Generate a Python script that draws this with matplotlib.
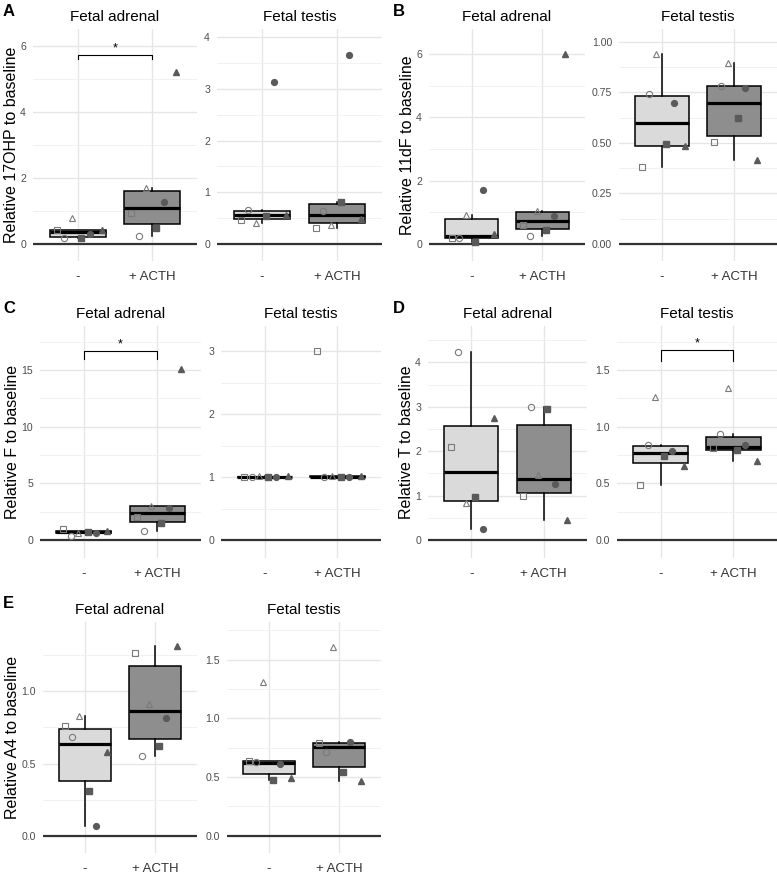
import matplotlib
matplotlib.use("Agg")
import matplotlib.pyplot as plt

plt.rcParams["font.family"] = ["Liberation Sans", "DejaVu Sans"]

# orden de los puntos: cuadrado abierto, circulo abierto, triangulo abierto,
# cuadrado relleno, circulo relleno, triangulo relleno
grupos = ["-", "+ ACTH"]

ohp_adr_ctrl = [0.42, 0.19, 0.78, 0.19, 0.30, 0.42]
ohp_adr_acth = [0.94, 0.25, 1.70, 0.48, 1.27, 5.23]
ohp_tes_ctrl = [0.46, 0.65, 0.41, 0.55, 3.13, 0.57]
ohp_tes_acth = [0.31, 0.64, 0.37, 0.81, 3.66, 0.49]

df_adr_ctrl = [0.18, 0.18, 0.93, 0.07, 1.71, 0.32]
df_adr_acth = [0.60, 0.24, 1.05, 0.43, 0.87, 6.00]
df_tes_ctrl = [0.381, 0.744, 0.94, 0.497, 0.698, 0.483]
df_tes_acth = [0.503, 0.784, 0.896, 0.624, 0.771, 0.414]

f_adr_ctrl = [1.00, 0.35, 0.65, 0.74, 0.65, 0.76]
f_adr_acth = [2.06, 0.79, 3.03, 1.47, 2.79, 15.07]
f_tes_ctrl = [1.00, 1.00, 1.01, 1.00, 1.00, 1.01]
f_tes_acth = [3.00, 1.00, 1.01, 1.00, 1.00, 1.01]

t_adr_ctrl = [2.09, 4.24, 0.84, 0.96, 0.24, 2.74]
t_adr_acth = [1.00, 2.99, 1.47, 2.96, 1.26, 0.45]
t_tes_ctrl = [0.49, 0.838, 1.26, 0.74, 0.79, 0.657]
t_tes_acth = [0.81, 0.936, 1.34, 0.794, 0.838, 0.697]

a4_adr_ctrl = [0.762, 0.683, 0.831, 0.31, 0.069, 0.583]
a4_adr_acth = [1.262, 0.549, 0.914, 0.618, 0.815, 1.317]
a4_tes_ctrl = [0.636, 0.625, 1.312, 0.474, 0.608, 0.494]
a4_tes_acth = [0.787, 0.716, 1.611, 0.545, 0.795, 0.466]

# ticks del eje y
ticks_ohp_adr = [0, 2, 4, 6]
ticks_ohp_tes = [0, 1, 2, 3, 4]
ticks_df_adr = [0, 2, 4, 6]
ticks_df_tes = [0.00, 0.25, 0.50, 0.75, 1.00]
ticks_f_adr = [0, 5, 10, 15]
ticks_f_tes = [0, 1, 2, 3]
ticks_t_adr = [0, 1, 2, 3, 4]
ticks_t_tes = [0.0, 0.5, 1.0, 1.5]
ticks_a4_adr = [0.0, 0.5, 1.0]
ticks_a4_tes = [0.0, 0.5, 1.0, 1.5]

W, H = 777, 873
fig = plt.figure(figsize=(W / 100, H / 100), dpi=100)

marcadores = ["s", "o", "^", "s", "o", "^"]
rellenos = [False, False, False, True, True, True]
desplaz = [-0.28, -0.18, -0.08, 0.05, 0.16, 0.32]


def panel(x0, x1, fila, datos_ctrl, datos_acth, ytop, ticks, fmt, titulo,
          ylabel=None, corchete=None, letra=None):
    top, bottom, zero = fila
    ybot = -(bottom - zero) / (zero - top) * ytop
    ax = fig.add_axes([x0 / W, 1 - bottom / H, (x1 - x0) / W, (bottom - top) / H])
    for s in ax.spines.values():
        s.set_visible(False)
    ax.axhline(0, color="#333333", lw=1.6, zorder=1)

    bp = ax.boxplot([datos_ctrl, datos_acth], positions=[1, 2], widths=0.75,
                    patch_artist=True, showfliers=False, showcaps=False, whis=1.5,
                    medianprops=dict(color="black", lw=2.3),
                    boxprops=dict(edgecolor="black", lw=1.1),
                    whiskerprops=dict(color="black", lw=1.1), zorder=2)
    for caja, color in zip(bp["boxes"], ["#dadada", "#8e8e8e"]):
        caja.set_facecolor(color)

    for pos, datos in zip([1, 2], [datos_ctrl, datos_acth]):
        for v, m, lleno, d in zip(datos, marcadores, rellenos, desplaz):
            if lleno:
                ax.plot(pos + d, v, marker=m, ms=4.2, color="#5a5a5a", mec="#5a5a5a", zorder=3)
            else:
                ax.plot(pos + d, v, marker=m, ms=4.5, mfc="none", mec="#7a7a7a", mew=0.8, zorder=3)

    if corchete is not None:
        yb, yt = corchete
        ax.plot([1, 1, 2, 2], [yt, yb, yb, yt], color="black", lw=0.8, zorder=3)
        ax.text(1.5, yb, "*", ha="center", va="bottom", fontsize=9)

    ax.set_xlim(0.4, 2.6)
    ax.set_ylim(ybot, ytop)
    paso = ticks[1] - ticks[0]
    menores = [t + paso / 2 for t in ticks] + [ticks[0] - paso / 2]
    menores = [m for m in menores if ybot < m < ytop]
    ax.set_yticks(ticks)
    ax.set_yticklabels([fmt.format(t) for t in ticks])
    ax.set_yticks(menores, minor=True)
    ax.set_xticks([1, 2])
    ax.set_xticklabels(grupos)
    ax.grid(which="major", color="#e6e6e6", lw=1.0, zorder=0)
    ax.grid(which="minor", axis="y", color="#efefef", lw=0.6, zorder=0)
    ax.set_axisbelow(True)
    ax.tick_params(axis="y", which="both", length=0, labelsize=7.6, labelcolor="#4d4d4d", pad=5)
    ax.tick_params(axis="x", which="both", length=0, labelsize=9.5, labelcolor="#333333", pad=7)

    ax.set_title(titulo, fontsize=11, pad=6)
    if ylabel:
        ax.set_ylabel(ylabel, fontsize=11.5, labelpad=1)
    if letra:
        fig.text(letra[1] / W, 1 - letra[2] / H, letra[0], fontsize=12, fontweight="bold",
                 ha="left", va="center")
    return ax


fila1 = (29, 261, 244)
fila2 = (326, 558, 540)
fila3 = (622, 853, 835.7)

panel(33, 197, fila1, ohp_adr_ctrl, ohp_adr_acth, 6.52, ticks_ohp_adr, "{:g}",
      "Fetal adrenal", "Relative 17OHP to baseline", (5.74, 5.6), ("A", 3, 12))
panel(217, 382, fila1, ohp_tes_ctrl, ohp_tes_acth, 4.16, ticks_ohp_tes, "{:g}", "Fetal testis")
panel(429, 585, fila1, df_adr_ctrl, df_adr_acth, 6.79, ticks_df_adr, "{:g}",
      "Fetal adrenal", "Relative 11dF to baseline", None, ("B", 393, 12))
panel(619, 777, fila1, df_tes_ctrl, df_tes_acth, 1.064, ticks_df_tes, "{:.2f}", "Fetal testis")

panel(40, 201, fila2, f_adr_ctrl, f_adr_acth, 18.9, ticks_f_adr, "{:g}",
      "Fetal adrenal", "Relative F to baseline", (16.7, 16.0), ("C", 3, 308))
panel(221, 381, fila2, f_tes_ctrl, f_tes_acth, 3.40, ticks_f_tes, "{:g}", "Fetal testis")
panel(428, 587, fila2, t_adr_ctrl, t_adr_acth, 4.82, ticks_t_adr, "{:g}",
      "Fetal adrenal", "Relative T to baseline", None, ("D", 393, 308))
panel(617, 777, fila2, t_tes_ctrl, t_tes_acth, 1.89, ticks_t_tes, "{:.1f}", "Fetal testis",
      None, (1.68, 1.58))

panel(43, 197, fila3, a4_adr_ctrl, a4_adr_acth, 1.48, ticks_a4_adr, "{:.1f}",
      "Fetal adrenal", "Relative A4 to baseline", None, ("E", 3, 603))
panel(227, 381, fila3, a4_tes_ctrl, a4_tes_acth, 1.82, ticks_a4_tes, "{:.1f}", "Fetal testis")

fig.savefig("out.png", dpi=100)
